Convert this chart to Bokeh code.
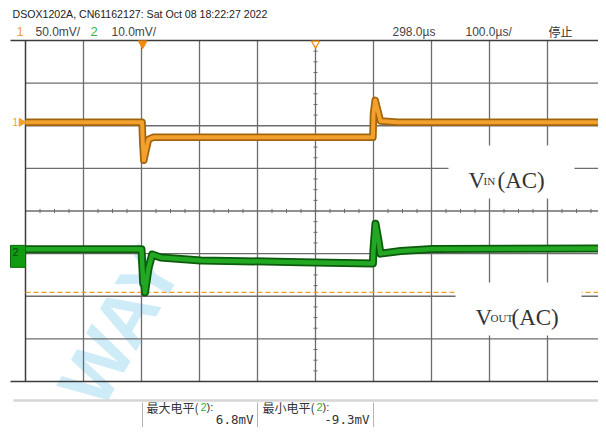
from bokeh.plotting import figure
from bokeh.models import Range1d
from bokeh.core.properties import value
from bokeh.embed import file_html
from bokeh.resources import INLINE

# ---------------- scope settings / texts ----------------
header_text = "DSOX1202A, CN61162127: Sat Oct 08 18:22:27 2022"
ch1_name = "1"
ch2_name = "2"
ch1_scale_text = "50.0mV/"
ch2_scale_text = "10.0mV/"
delay_text = "298.0µs"
timebase_text = "100.0µs/"
state_text = "停止"
label_in = ["V", "IN", "(AC)"]
label_out = ["V", "OUT", "(AC)"]
meas_names = ["最大电平", "最小电平"]
meas_values = ["6.8mV", "-9.3mV"]
watermark = "WAY"

ch1_mv_per_div = 50.0
ch2_mv_per_div = 10.0
us_per_div = 100.0
delay_us = 298.0
h_divs = 10
v_divs = 8
ch1_offset_div = 2.08
ch2_offset_div = -0.90

# ---------------- traces (time in us, value in mV) ----------------
ch1_t = [-202, -1, 0, 2, 4, 10, 18, 120, 260, 397, 398, 401, 405, 410, 440, 600, 798]
ch1_mv = [0, 0, -20, -44.5, -38, -20, -17.6, -17.4, -17.6, -17.6, 10, 25.8, 15, 1.5, 0, 0.2, 0]

ch2_t = [-202, -2, 1, 2.3, 4, 10, 16.4, 31, 100, 272, 397, 398, 401.4, 406, 410, 445, 500, 798]
ch2_mv = [0, 0, -8.0, -7.3, -10.1, -4.5, -1.2, -1.9, -2.6, -3.0, -3.3, 0, 6.0, 2.5, -1.0, -0.4, 0.1, 0.2]

# ---------------- layout ----------------
W, H = 598, 427
GL, GR, GT, GB = 25, 605, 40, 381

ORANGE = "#f2a12c"
ORANGE_DK = "#a3640e"
GREEN = "#22a822"
GREEN_DK = "#0c5a0c"
GRID = "#6c6c6c"
FRAME = "#3c3c3c"

p = figure(width=W, height=H, x_range=Range1d(0, W), y_range=Range1d(H, 0),
           output_backend="svg", toolbar_location=None, title=None,
           x_axis_location=None, y_axis_location=None,
           min_border=0, min_border_left=0, min_border_right=0,
           min_border_top=0, min_border_bottom=0)
p.outline_line_color = None
p.background_fill_color = "white"
p.border_fill_color = "white"
p.grid.visible = False

t_lo = delay_us - us_per_div * h_divs / 2
t_hi = delay_us + us_per_div * h_divs / 2
sx = (GR - GL) / (t_hi - t_lo)
sy = (GB - GT) / v_divs
yc = (GT + GB) / 2
p.extra_x_ranges = {"t": Range1d(t_lo - GL / sx, t_hi + (W - GR) / sx)}
p.extra_y_ranges = {"div": Range1d((yc - H) / sy, yc / sy)}
TD = dict(x_range_name="t", y_range_name="div")

# watermark
p.text(x=[78], y=[398], text=[watermark], angle=1.05,
       text_font=value("Liberation Sans"), text_font_style="bold",
       text_font_size="76px", text_color="#c9e9f7", text_alpha=0.9,
       text_baseline="alphabetic", text_align="left")

# grid
half = v_divs / 2
vt = [t_lo + k * us_per_div for k in range(h_divs + 1)]
hd = [-half + k for k in range(v_divs + 1)]
p.segment(x0=vt[1:-1], y0=[-half] * (h_divs - 1), x1=vt[1:-1], y1=[half] * (h_divs - 1),
          line_color=GRID, line_width=1.3, **TD)
p.segment(x0=[t_lo] * (v_divs - 1), y0=hd[1:-1], x1=[t_hi] * (v_divs - 1), y1=hd[1:-1],
          line_color=GRID, line_width=1.3, **TD)
# minor ticks on centre cross
tk_t = [t_lo + k * us_per_div / 4 for k in range(h_divs * 4 + 1)]
p.segment(x0=tk_t, y0=[-0.05] * len(tk_t), x1=tk_t, y1=[0.05] * len(tk_t),
          line_color=GRID, line_width=1, **TD)
tk_d = [-half + k * 0.25 for k in range(v_divs * 4 + 1)]
p.segment(x0=[delay_us - 3.5] * len(tk_d), y0=tk_d, x1=[delay_us + 3.5] * len(tk_d), y1=tk_d,
          line_color=GRID, line_width=1, **TD)
# frame
p.segment(x0=[10, 10], y0=[GT, GB], x1=[GR, GR], y1=[GT, GB], line_color=FRAME, line_width=1.5)
p.segment(x0=[GL, GR], y0=[GT, GT], x1=[GL, GR], y1=[GB, GB], line_color=FRAME, line_width=1.5)

# cursor at channel-2 minimum
cur = ch2_offset_div + min(ch2_mv) / ch2_mv_per_div
p.line([t_lo, t_hi], [cur, cur], line_color="#f39a2a", line_width=1.3, line_dash="5 3", **TD)

# traces
y1 = [ch1_offset_div + v / ch1_mv_per_div for v in ch1_mv]
y2 = [ch2_offset_div + v / ch2_mv_per_div for v in ch2_mv]
p.line(ch1_t, y1, line_color=ORANGE_DK, line_width=7.5, line_join="round", **TD)
p.line(ch1_t, y1, line_color=ORANGE, line_width=4, line_join="round", **TD)
p.line(ch2_t, y2, line_color=GREEN_DK, line_width=8, line_join="round", **TD)
p.line(ch2_t, y2, line_color=GREEN, line_width=4.5, line_join="round", **TD)

# annotation boxes
p.quad(left=[448, 455], right=[574, 581], top=[145, 282], bottom=[198, 335],
       fill_color="white", line_color=None)
SERIF = value("Liberation Serif")
for lab, x0, yb in ((label_in, 468, 180), (label_out, 475, 317)):
    p.text(x=[x0], y=[yb], text=[lab[0]], text_font=SERIF, text_font_size="23px",
           text_color="#333333", text_baseline="alphabetic")
    p.text(x=[x0 + 15], y=[yb], text=[lab[1]], text_font=SERIF, text_font_size="11px",
           text_color="#333333", text_baseline="alphabetic")
    p.text(x=[x0 + 15 + (14 if lab[1] == "IN" else 21)], y=[yb], text=[lab[2]], text_font=SERIF,
           text_font_size="23px", text_color="#333333", text_baseline="alphabetic")

# channel markers
p.scatter(x=[GL - 4], y=[ch1_offset_div], marker="triangle", angle=-1.5708, size=8,
          fill_color=ORANGE, line_color=ORANGE, x_range_name="default", y_range_name="div")
p.text(x=[12], y=[ch1_offset_div], text=[ch1_name], text_font=value("Liberation Sans"),
       text_font_size="10px", text_color=ORANGE, text_baseline="middle",
       x_range_name="default", y_range_name="div")
py2 = yc - ch2_offset_div * sy
p.quad(left=[10], right=[GL], top=[py2 - 4], bottom=[py2 + 18], fill_color="#119b11",
       line_color="#0a6a0a")
p.text(x=[12], y=[py2 + 3], text=[ch2_name], text_font=value("Liberation Sans"),
       text_font_size="11px", text_color="#0a4a0a", text_baseline="middle")
# trigger / delay markers
p.scatter(x=[0], y=[GT + 3], marker="inverted_triangle", size=9, fill_color="#f08a10",
          line_color="#f08a10", x_range_name="t")
p.scatter(x=[delay_us], y=[GT + 3], marker="inverted_triangle", size=8, fill_color="white",
          line_color="#f08a10", line_width=1.2, x_range_name="t")

# header
HF = value("Liberation Sans")
p.text(x=[12], y=[13.5], text=[header_text], text_font=HF, text_font_size="10.6px",
       text_color="#222222", text_baseline="middle")
p.text(x=[16, 90], y=[31, 31], text=[ch1_name, ch2_name], text_font=HF, text_font_size="13px",
       text_color=[ORANGE, "#33b833"], text_baseline="middle")
p.text(x=[35, 111, 392, 465], y=[31] * 4,
       text=[ch1_scale_text, ch2_scale_text, delay_text, timebase_text],
       text_font=HF, text_font_size="12px", text_color="#444444", text_baseline="middle")
p.text(x=[548], y=[31], text=[state_text], text_font=value("Noto Sans CJK SC"),
       text_font_size="12px", text_color="#333333", text_baseline="middle")

# measurement bar
p.segment(x0=[13], y0=[400], x1=[GR], y1=[400], line_color="#d6d6d6", line_width=2.5)
p.segment(x0=[142, 257, 373], y0=[402] * 3, x1=[142, 257, 373], y1=[435] * 3,
          line_color="#b4b4b4", line_width=1)
CJK = value("Noto Sans CJK SC")
for i, (nm, vv) in enumerate(zip(meas_names, meas_values)):
    x0 = 146 + i * 116
    p.text(x=[x0], y=[406.5], text=[nm + "("], text_font=CJK, text_font_size="12px",
           text_color="#333333", text_baseline="middle")
    p.text(x=[x0 + 54], y=[406.5], text=[ch2_name], text_font=value("Liberation Sans"),
           text_font_size="11px", text_color="#33b833", text_baseline="middle")
    p.text(x=[x0 + 60], y=[406.5], text=["):"], text_font=value("Liberation Sans"),
           text_font_size="11px", text_color="#333333", text_baseline="middle")
    p.text(x=[x0 + 107], y=[418.5], text=[vv], text_font=value("DejaVu Sans Mono"),
           text_font_size="12.5px", text_color="#333333", text_baseline="middle",
           text_align="right")

open("out.html", "w").write(file_html(p, INLINE))
